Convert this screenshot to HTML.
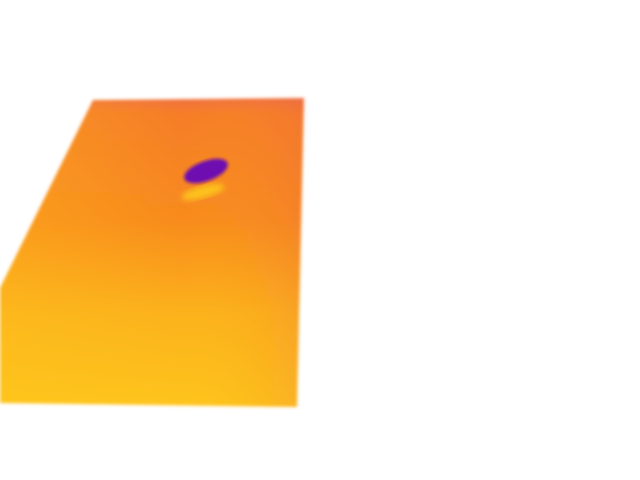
<!DOCTYPE html>
<html><head><meta charset="utf-8"><style>html,body{margin:0;padding:0;background:#fff;width:640px;height:480px;overflow:hidden}</style></head>
<body>
<svg width="640" height="480" viewBox="0 0 640 480" xmlns="http://www.w3.org/2000/svg">
<defs>
<linearGradient id="vg" x1="0" y1="0" x2="0" y2="1">
<stop offset="0" stop-color="#f07040"/>
<stop offset="0.05" stop-color="#f67d28"/>
<stop offset="0.4" stop-color="#f88b1e"/>
<stop offset="0.7" stop-color="#fcb21a"/>
<stop offset="1" stop-color="#fec41a"/>
</linearGradient>
<linearGradient id="hg" x1="0" y1="0" x2="1" y2="0">
<stop offset="0" stop-color="#ffc81c" stop-opacity="0.3"/>
<stop offset="0.6" stop-color="#ffc81c" stop-opacity="0"/>
<stop offset="1" stop-color="#e8604a" stop-opacity="0.2"/>
</linearGradient>
<filter id="b1"><feGaussianBlur stdDeviation="1.5"/></filter>
<filter id="b2"><feGaussianBlur stdDeviation="3"/></filter>
</defs>
<g filter="url(#b1)">
<polygon points="93,100 304,98 297,407 0,403 0,288" fill="url(#vg)"/>
<polygon points="93,100 304,98 297,407 0,403 0,288" fill="url(#hg)"/>
</g>
<ellipse cx="203" cy="192" rx="22" ry="6" transform="rotate(-15 203 192)" fill="#fcc21a" filter="url(#b2)"/>
<ellipse cx="206" cy="171" rx="23" ry="10" transform="rotate(-20 206 171)" fill="#6e10b0" filter="url(#b1)"/>
</svg>
</body></html>
